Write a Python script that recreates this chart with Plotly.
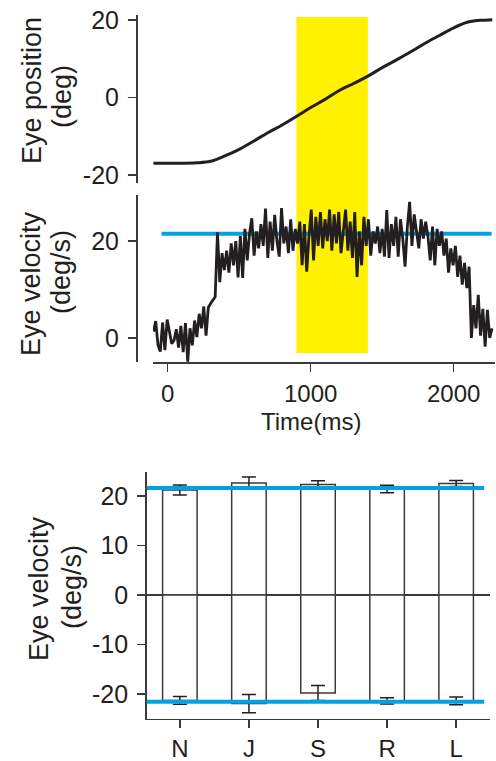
import plotly.graph_objects as go

# ---------------- data ----------------
pos_time = [-100, 0, 100, 200, 300, 400, 500, 600, 700, 800, 900, 1000, 1100, 1200,
            1300, 1400, 1500, 1600, 1700, 1800, 1900, 2000, 2100, 2150, 2200, 2270]
pos_deg = [-17.0, -17.0, -17.0, -16.9, -16.5, -15.1, -13.4, -11.3, -9.1, -7.1, -4.9, -2.6,
           -0.5, 1.8, 3.6, 5.5, 7.7, 9.7, 11.8, 14.0, 16.0, 18.0, 19.5, 19.8, 19.95, 20.1]

vel_t0 = -100
vel_dt = 16
vel = [1.3, 3.5, -1.5, -2.8, 3.2, -2.5, 3.8, 1.0, -1.2, -0.5, 1.8, -2.0, 2.5, -2.9, 3.1, -4.9,
       2.0, -1.5, 3.6, 0.2, 5.0, 2.0, 6.5, 0.5, 6.3, 7.1, 7.8, 8.5, 21.8, 11.5, 17.5, 14.0,
       18.0, 13.5, 19.5, 15.0, 20.0, 12.5, 21.0, 12.4, 22.5, 16.0, 21.5, 24.7, 17.0, 22.0,
       18.5, 23.5, 19.0, 26.7, 16.5, 24.0, 18.0, 25.4, 20.0, 16.8, 26.8, 19.5, 23.0, 17.5,
       24.5, 18.0, 22.5, 19.5, 24.0, 15.0, 23.5, 13.7, 21.0, 26.5, 16.0, 25.0, 19.0, 26.0,
       18.5, 24.5, 20.0, 26.5, 18.0, 25.5, 19.5, 26.0, 17.5, 22.5, 26.5, 18.0, 24.0, 16.5,
       26.0, 12.6, 22.0, 15.0, 25.0, 19.0, 24.5, 17.0, 22.0, 19.5, 23.0, 17.5, 22.5, 16.8,
       26.4, 16.5, 23.5, 19.0, 25.0, 16.8, 24.5, 20.5, 14.7, 23.0, 28.1, 19.0, 25.5, 22.0,
       18.5, 24.5, 20.5, 24.0, 21.0, 16.0, 23.0, 15.0, 22.5, 19.0, 22.0, 17.0, 20.5, 13.5,
       18.5, 15.0, 19.0, 12.6, 17.0, 11.0, 15.5, 10.3, 14.7, 0.0, 6.8, 2.0, 8.9, 0.5, 6.0,
       -1.8, 5.8, 0.0, 2.0]
vel_time = [vel_t0 + vel_dt * i for i in range(len(vel))]

window = [900, 1400]
target_speed = 21.5

subjects = ["N", "J", "S", "R", "L"]
pos_mean = [21.2, 22.6, 22.3, 21.4, 22.5]
pos_err = [1.0, 1.25, 0.75, 0.75, 0.6]
neg_mean = [-21.3, -21.95, -19.8, -21.4, -21.4]
neg_err = [0.8, 1.85, 1.5, 0.65, 0.8]
bar_target = 21.6

pos_ticks = [-20, 0, 20]
vel_ticks = [0, 20]
bar_ticks = [-20, -10, 0, 10, 20]
time_ticks = [0, 1000, 2000]

# ---------------- styling ----------------
W, H = 496, 761
FONT = "Liberation Sans, Arial, sans-serif"
TXT = "#231f20"
AX = "#3a3a3a"
BLUE = "#00a3e0"
YELLOW = "#fff100"


def px(xp):
    return xp / W


def py(yp):
    return 1 - yp / H


def labels(vals):
    return [str(v) for v in vals]  # plain hyphen minus


fig = go.Figure()

fig.add_trace(go.Scatter(x=pos_time, y=pos_deg, mode="lines", line=dict(color=TXT, width=3, shape="spline"),
                         xaxis="x", yaxis="y", hoverinfo="skip"))
fig.add_trace(go.Scatter(x=vel_time, y=vel, mode="lines", line=dict(color=TXT, width=2.8),
                         xaxis="x2", yaxis="y2", hoverinfo="skip"))

bar_style = dict(color="white", line=dict(color=AX, width=1.5))
fig.add_trace(go.Bar(x=subjects, y=pos_mean, width=0.5, marker=bar_style,
                     error_y=dict(type="data", array=pos_err, color=TXT, thickness=1.5, width=7),
                     xaxis="x3", yaxis="y3", hoverinfo="skip"))
fig.add_trace(go.Bar(x=subjects, y=neg_mean, width=0.5, marker=bar_style,
                     error_y=dict(type="data", array=neg_err, color=TXT, thickness=1.5, width=7),
                     xaxis="x3", yaxis="y3", hoverinfo="skip"))

axis_common = dict(showgrid=False, zeroline=False, showline=True, linecolor=AX, linewidth=1.5,
                   ticks="outside", ticklen=8, tickwidth=1.5, tickcolor=AX, automargin=False,
                   tickfont=dict(family=FONT, size=25, color=TXT))

xdom = [px(153), px(495)]
xrange_ms = [-103, 2289]

fig.update_layout(
    template="none",
    width=W, height=H, margin=dict(l=0, r=0, t=0, b=0, pad=0), autosize=False,
    paper_bgcolor="white", plot_bgcolor="white", showlegend=False,
    barmode="overlay",
    xaxis=dict(domain=xdom, range=xrange_ms, visible=False, anchor="y", automargin=False),
    yaxis=dict(axis_common, domain=[py(183), py(15)], range=[-22.1, 21.3], anchor="free",
               position=px(136), tickvals=pos_ticks, ticktext=labels(pos_ticks), ticklabelstandoff=4),
    xaxis2=dict(axis_common, domain=xdom, range=xrange_ms, anchor="y2",
                tickvals=time_ticks, ticktext=labels(time_ticks),
                tickfont=dict(family=FONT, size=24, color=TXT), ticklabelstandoff=2),
    yaxis2=dict(axis_common, domain=[py(362), py(195)], range=[-4.95, 29.5], anchor="free",
                position=px(136), tickvals=vel_ticks, ticktext=labels(vel_ticks), ticklabelstandoff=4),
    xaxis3=dict(axis_common, domain=[px(146.7), px(490)], range=[-0.48, 4.49], anchor="y3",
                type="category", tickfont=dict(family=FONT, size=24, color=TXT), ticklabelstandoff=0),
    yaxis3=dict(axis_common, domain=[py(718.7), py(471.7)], range=[-25.0, 24.9], anchor="x3",
                tickvals=bar_ticks, ticktext=labels(bar_ticks), zeroline=True, zerolinecolor=AX,
                zerolinewidth=1.5, ticklabelstandoff=4),
)

# yellow analysis window spanning the two top panels
fig.add_shape(type="rect", xref="x2", yref="paper", x0=window[0], x1=window[1],
              y0=py(353), y1=py(17), fillcolor=YELLOW, line=dict(width=0), layer="below")
# target speed line in velocity panel
fig.add_shape(type="line", xref="x2 domain", yref="y2", x0=0.025, x1=0.99,
              y0=target_speed, y1=target_speed, line=dict(color=BLUE, width=4), layer="below")
# target speed lines in bar panel
for lvl in (bar_target, -bar_target):
    fig.add_shape(type="line", xref="x3 domain", yref="y3", x0=0, x1=0.983,
                  y0=lvl, y1=lvl, line=dict(color=BLUE, width=4), layer="above")

title_font = dict(family=FONT, size=27, color=TXT)
ann = [
    ("Eye position", 32, 91, title_font, -90),
    ("(deg)", 62, 97, title_font, -90),
    ("Eye velocity", 31, 284, title_font, -90),
    ("(deg/s)", 61, 272, title_font, -90),
    ("Eye velocity", 39, 589, title_font, -90),
    ("(deg/s)", 72, 587, title_font, -90),
    ("Time(ms)", 311, 421, dict(family=FONT, size=24, color=TXT), 0),
]
for text, xx, yy, f, ang in ann:
    fig.add_annotation(text=text, x=px(xx), y=py(yy), xref="paper", yref="paper",
                       showarrow=False, xanchor="center", yanchor="middle", textangle=ang, font=f)

fig.write_html("out.html", config={"displayModeBar": False, "staticPlot": True},
               post_script="document.body.style.margin='0';")
